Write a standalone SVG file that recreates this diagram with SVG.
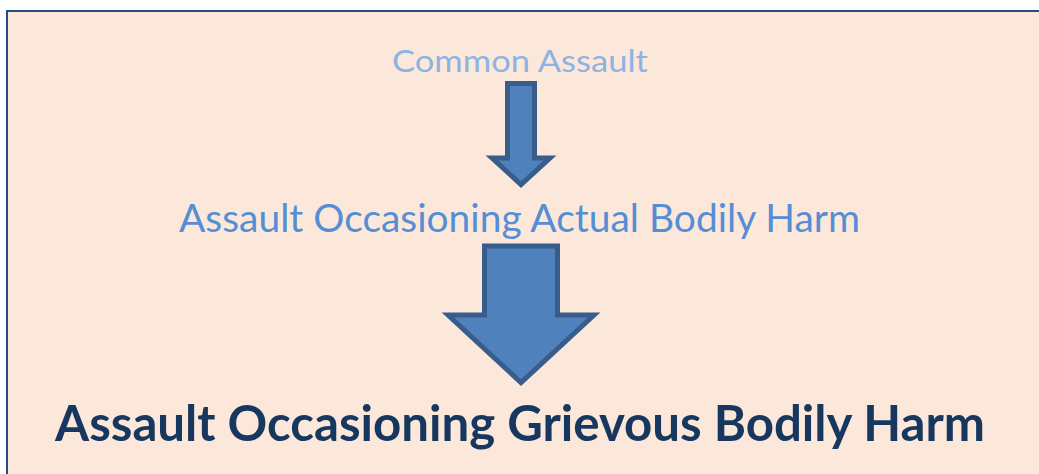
<svg xmlns="http://www.w3.org/2000/svg" width="1039" height="474" viewBox="0 0 1039 474">
  <style>
    .arrow { fill: #4F81BD; stroke: #385D8A; stroke-width: 5; stroke-linejoin: miter; stroke-miterlimit: 10; }
    .t { font-family: Lato, "Open Sans", "Liberation Sans", sans-serif; text-anchor: middle; }
  </style>
  <rect x="0" y="0" width="1039" height="474" fill="#FFFFFF"/>
  <rect id="panel" x="7" y="11" width="1060" height="490" fill="#FCE8DA" stroke="#234C85" stroke-width="2"/>
  <g id="connectors">
    <path class="arrow" d="M507.5,83.5 H534.5 V158 H550 L521,184.5 L492,158 H507.5 Z"/>
    <path class="arrow" d="M484.5,246 H557.5 V315 H594 L521,382.5 L448,315 H484.5 Z"/>
  </g>
  <g id="node-common">
    <text class="t" x="520" y="72" font-size="31" fill="#8DB3E2" textLength="256" lengthAdjust="spacingAndGlyphs">Common Assault</text>
  </g>
  <g id="node-abh">
    <text class="t" x="519.5" y="232" font-size="39" fill="#558ED5" textLength="681" lengthAdjust="spacingAndGlyphs">Assault Occasioning Actual Bodily Harm</text>
  </g>
  <g id="node-gbh">
    <text class="t" x="520" y="441" font-size="49" font-weight="bold" fill="#17375E" textLength="930" lengthAdjust="spacingAndGlyphs">Assault Occasioning Grievous Bodily Harm</text>
  </g>
</svg>
